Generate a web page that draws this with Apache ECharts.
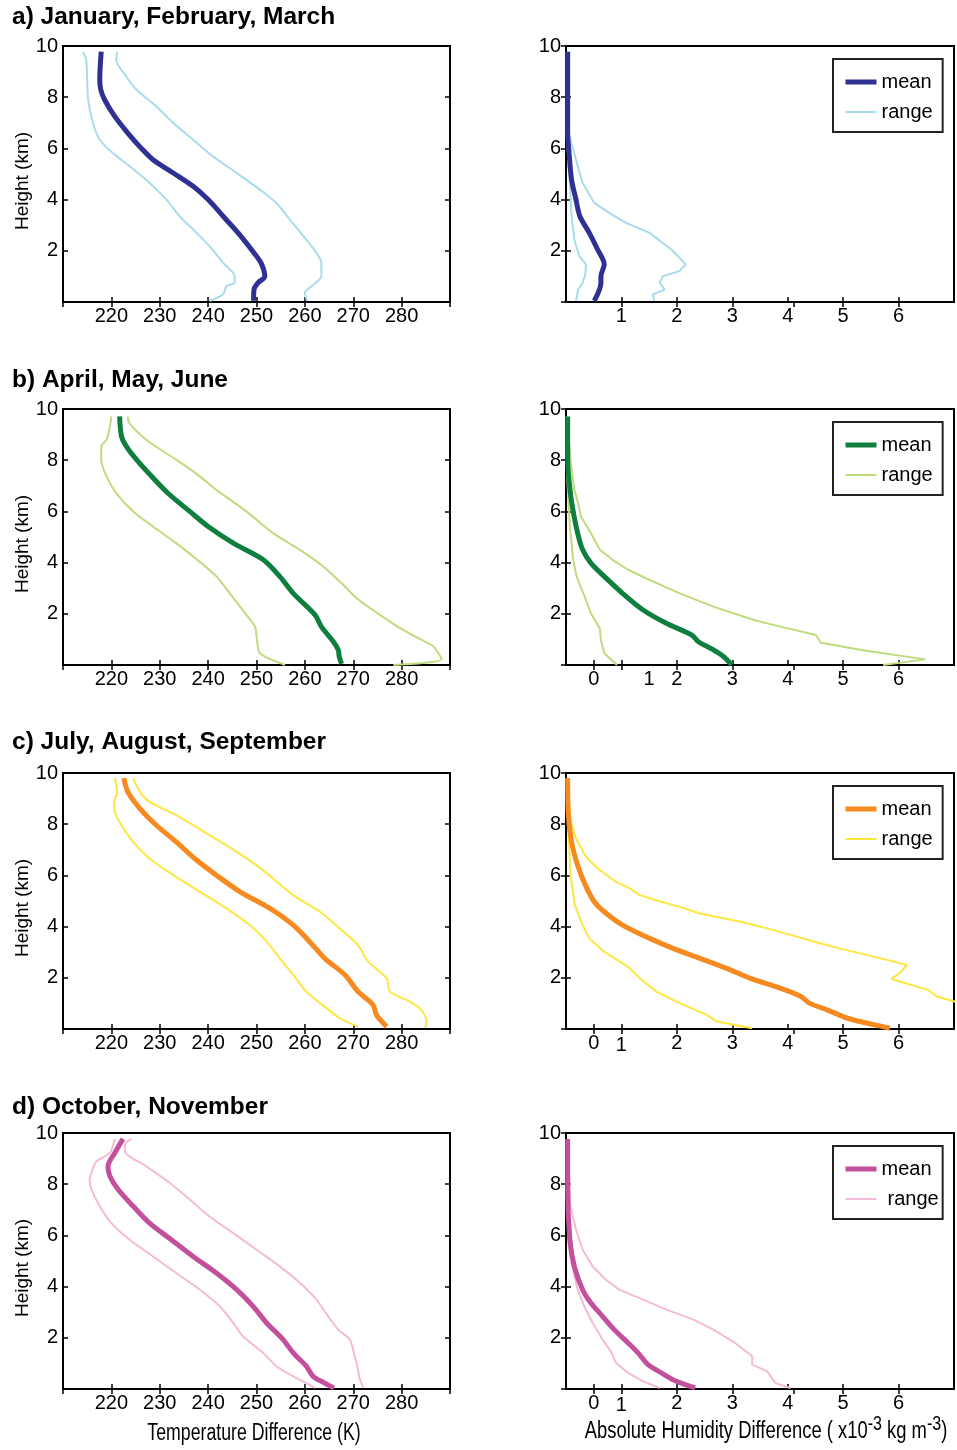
<!DOCTYPE html>
<html><head><meta charset="utf-8">
<script src="https://cdn.jsdelivr.net/npm/echarts@6/dist/echarts.min.js"></script>
<style>html,body{margin:0;padding:0;background:#fff}#c{width:957px;height:1450px}</style>
</head><body><div id="c"></div>
<script>
// ---------- data: [value, height km] ----------
const tempMeanA = [[217.9,9.78],[217.6,8.7],[217.8,8.3],[218.6,7.9],[220.7,7.25],[223.4,6.6],[226.2,6.0],[228.6,5.56],[232.8,5.04],[236.9,4.52],[240.0,4.0],[243.1,3.35],[246.2,2.7],[249.3,1.96],[251.0,1.5],[251.7,1.0],[250.3,0.75],[249.5,0.5],[249.4,0.05]];
const tempLowA = [[214.1,9.78],[214.8,9.45],[215.2,7.9],[216.2,6.99],[217.6,6.34],[220.3,5.82],[223.8,5.3],[227.9,4.65],[231.4,4.0],[234.1,3.35],[237.6,2.7],[240.3,2.18],[243.1,1.53],[245.5,1.01],[245.5,0.75],[243.8,0.62],[243.1,0.3],[240.3,0.04]];
const tempHighA = [[221.2,9.78],[221.0,9.45],[223.1,8.8],[225.2,8.29],[229.3,7.64],[232.8,6.99],[236.9,6.34],[241.0,5.69],[245.9,5.04],[250.7,4.39],[254.1,3.87],[256.9,3.22],[259.7,2.57],[262.4,1.92],[263.4,1.53],[263.4,1.01],[261.4,0.62],[260.0,0.36],[260.5,0.04]];
const humMeanA = [[0.03,9.78],[0.03,6.6],[0.05,5.95],[0.10,4.78],[0.18,4.0],[0.25,3.35],[0.42,2.7],[0.57,2.05],[0.69,1.47],[0.63,1.01],[0.63,0.75],[0.51,0.04]];
const humLowA = [[0.02,9.78],[0.03,5.95],[0.07,4.65],[0.10,3.35],[0.15,2.44],[0.24,1.79],[0.36,1.47],[0.35,1.08],[0.30,0.75],[0.22,0.49],[0.18,0.04]];
const humHighA = [[0.03,9.78],[0.05,6.6],[0.18,5.56],[0.30,4.65],[0.51,3.87],[0.78,3.48],[1.08,3.09],[1.51,2.7],[1.90,2.05],[2.02,1.79],[2.16,1.47],[2.05,1.21],[1.75,1.01],[1.69,0.75],[1.78,0.49],[1.57,0.3],[1.59,0.04]];

const tempMeanB = [[221.7,9.71],[222.1,8.93],[223.1,8.54],[225.2,8.02],[228.3,7.37],[231.7,6.71],[236.2,6.0],[240.0,5.41],[245.2,4.76],[251.4,4.11],[254.8,3.46],[257.6,2.8],[262.1,1.96],[263.4,1.5],[265.9,0.91],[266.9,0.59],[267.1,0.33],[267.6,0.04]];
const tempLowB = [[220.0,9.71],[219.7,9.32],[219.0,8.8],[217.9,8.54],[217.9,8.02],[219.0,7.37],[221.0,6.71],[224.5,6.0],[228.6,5.41],[233.4,4.76],[238.6,3.98],[241.7,3.46],[244.5,2.8],[247.9,1.96],[249.7,1.5],[250.1,0.98],[250.7,0.46],[255.9,0.0]];
const tempHighB = [[223.4,9.71],[223.7,9.45],[227.2,8.8],[233.4,8.02],[238.3,7.37],[241.7,6.84],[247.9,6.0],[253.4,5.15],[259.0,4.5],[263.8,3.85],[267.6,3.19],[270.7,2.61],[275.5,1.96],[280.3,1.37],[284.8,0.91],[286.6,0.72],[288.3,0.22],[278.3,0.0]];
const humMeanB = [[0.03,9.71],[0.03,8.02],[0.08,6.71],[0.13,6.0],[0.21,5.15],[0.30,4.5],[0.45,3.98],[0.69,3.46],[1.02,2.8],[1.39,2.15],[1.81,1.63],[2.27,1.17],[2.39,0.91],[2.66,0.59],[2.84,0.33],[2.99,0.0]];
const humLowB = [[0.02,9.71],[0.02,7.37],[0.07,5.41],[0.13,4.11],[0.19,3.46],[0.36,2.54],[0.45,2.02],[0.61,1.43],[0.63,0.98],[0.69,0.46],[0.92,0.0]];
const humHighB = [[0.02,9.71],[0.08,8.02],[0.15,6.84],[0.22,6.32],[0.27,5.8],[0.45,5.15],[0.61,4.5],[0.84,4.11],[1.12,3.72],[1.51,3.32],[2.05,2.8],[2.66,2.28],[3.39,1.76],[3.87,1.5],[4.51,1.17],[4.60,0.87],[5.33,0.59],[6.48,0.22],[5.72,0.0]];

const tempMeanC = [[222.6,9.8],[223.4,9.26],[225.9,8.61],[229.3,7.96],[233.4,7.31],[237.2,6.66],[241.7,6.01],[246.6,5.36],[252.8,4.71],[257.6,4.06],[261.0,3.41],[264.1,2.76],[268.3,2.11],[271.0,1.46],[274.1,0.94],[274.8,0.55],[276.9,0.09]];
const tempLowC = [[220.7,9.8],[221.2,9.26],[220.6,8.87],[220.7,8.48],[222.1,7.96],[224.5,7.31],[227.9,6.66],[232.8,6.01],[238.3,5.36],[243.8,4.71],[248.6,4.06],[252.1,3.41],[254.8,2.76],[257.6,2.11],[260.3,1.46],[264.5,0.81],[267.2,0.42],[271.0,0.09]];
const tempHighC = [[224.5,9.8],[225.9,9.26],[227.9,8.87],[233.4,8.35],[240.3,7.57],[245.9,6.92],[250.0,6.4],[253.4,5.88],[257.6,5.23],[263.1,4.58],[267.2,3.93],[271.0,3.28],[273.1,2.63],[276.9,1.98],[277.6,1.46],[281.7,1.07],[284.1,0.74],[285.2,0.29],[284.8,0.05]];
const humMeanC = [[0.03,9.8],[0.04,8.43],[0.10,7.31],[0.21,6.4],[0.35,5.62],[0.51,4.97],[0.69,4.58],[1.02,4.06],[1.51,3.54],[1.93,3.15],[2.42,2.76],[2.90,2.37],[3.33,1.98],[3.87,1.59],[4.24,1.27],[4.39,1.01],[4.72,0.74],[5.08,0.42],[5.57,0.16],[5.84,0.03]];
const humLowC = [[0.02,9.8],[0.04,7.96],[0.08,6.01],[0.16,4.84],[0.30,4.06],[0.42,3.54],[0.69,3.02],[1.12,2.43],[1.33,1.98],[1.63,1.46],[2.05,1.01],[2.54,0.55],[2.72,0.29],[3.36,0.03]];
const humHighC = [[0.02,9.8],[0.08,8.17],[0.18,7.44],[0.36,6.73],[0.57,6.27],[0.90,5.75],[1.15,5.49],[1.33,5.23],[1.63,5.03],[2.05,4.77],[2.42,4.51],[3.15,4.19],[3.63,3.93],[4.18,3.6],[4.60,3.34],[4.93,3.15],[5.81,2.69],[6.15,2.5],[6.05,2.24],[5.87,1.95],[6.54,1.52],[6.69,1.27],[7.05,1.05]];

const tempMeanD = [[222.4,9.77],[220.7,9.22],[219.3,8.7],[219.7,8.31],[221.4,7.79],[224.5,7.14],[227.9,6.48],[232.4,5.83],[236.9,5.18],[241.7,4.53],[245.9,3.88],[249.3,3.23],[252.1,2.58],[255.5,1.93],[257.6,1.41],[260.3,0.89],[261.7,0.49],[264.1,0.23],[266.0,0.04]];
const tempLowD = [[220.7,9.77],[219.7,9.22],[216.9,8.89],[216.1,8.57],[215.5,8.18],[215.9,7.79],[217.6,7.14],[220.0,6.48],[223.8,5.83],[228.6,5.18],[233.4,4.53],[238.3,3.88],[242.4,3.23],[245.2,2.58],[247.2,2.06],[251.4,1.41],[254.1,0.89],[257.6,0.49],[260.3,0.23],[262.1,0.04]];
const tempHighD = [[224.1,9.77],[222.8,9.54],[222.8,9.28],[227.2,8.7],[232.1,8.05],[236.2,7.4],[240.3,6.74],[245.2,6.09],[250.0,5.44],[254.8,4.79],[259.0,4.14],[262.4,3.49],[264.8,2.84],[266.9,2.32],[269.3,1.93],[270.3,1.28],[271.0,0.76],[271.2,0.49],[272.1,0.04]];
const humMeanD = [[0.03,9.77],[0.03,7.79],[0.07,5.83],[0.15,4.79],[0.30,3.88],[0.45,3.36],[0.66,2.84],[0.87,2.32],[1.12,1.8],[1.30,1.41],[1.48,0.95],[1.72,0.63],[1.99,0.3],[2.33,0.04]];
const humLowD = [[0.02,9.77],[0.04,5.83],[0.10,4.92],[0.21,3.88],[0.33,3.23],[0.48,2.58],[0.66,1.93],[0.81,1.47],[0.90,1.02],[1.12,0.63],[1.39,0.3],[1.69,0.04]];
const humHighD = [[0.03,9.77],[0.08,7.14],[0.18,6.22],[0.30,5.44],[0.48,4.79],[0.72,4.27],[0.96,3.88],[1.39,3.49],[1.81,3.1],[2.30,2.71],[2.66,2.32],[3.05,1.8],[3.36,1.28],[3.36,0.95],[3.63,0.69],[3.78,0.23],[4.05,0.04]];

// ---------- tick labels ----------
const tempTickLabels = [220,230,240,250,260,270,280];
const heightTickLabels = [2,4,6,8,10];
const humTicksA = [1,2,3,4,5,6];
const humTopTicksA = [1,2,3,4.1,5,6];
const humLabelPosA = [1,2,3,4,5,6];
const humLabelTextA = ['1','2','3','4','5','6'];
const humTicksB = [0.5,1,2,3,4,5,6];
const humTopTicksB = [0.5,1,2,3,4.1,5,6];
const humLabelPosB = [0.5,1.5,2,3,4,5,6];
const humLabelTextB = ['0','1','2','3','4','5','6'];
const humTicksCD = [0.5,1,2,3,4,5,6];
const humTopTicksCD = [0.5,1,2,3,4.1,5,6];
const humLabelPosCD = [0.5,1,2,3,4,5,6];
const humLabelTextCD = ['0','1','2','3','4','5','6'];

const panelTitles = ['a) January, February, March','b) April, May, June','c) July, August, September','d) October, November'];
const legendNames = ['mean','range'];
const tempAxisTitle = 'Temperature Difference (K)';
const humAxisTitle = '{n|Absolute Humidity Difference ( x10}{s|-3}{n| kg m}{s|-3}{n|)}';

// ---------- styling / layout ----------
const NUM = '"Liberation Sans", Arial, Helvetica, sans-serif';
const LEFT_X = 63, LEFT_W = 387, RIGHT_X = 566, RIGHT_W = 388;
const ROW_TOP = [46, 409, 773, 1133], ROW_H = 256;
const TITLE_BASE = [25, 388, 750, 1115];

const rows = [
  {id:'a', cMean:'#2e3192', cRange:'#a9dcea', t:[tempMeanA,tempLowA,tempHighA], h:[humMeanA,humLowA,humHighA], ticks:humTicksA, top:humTopTicksA, lpos:humLabelPosA, ltxt:humLabelTextA, dropOne:false, shiftRange:false},
  {id:'b', cMean:'#0f7f3f', cRange:'#bedc7e', t:[tempMeanB,tempLowB,tempHighB], h:[humMeanB,humLowB,humHighB], ticks:humTicksB, top:humTopTicksB, lpos:humLabelPosB, ltxt:humLabelTextB, dropOne:false, shiftRange:false},
  {id:'c', cMean:'#f6891f', cRange:'#fde73f', t:[tempMeanC,tempLowC,tempHighC], h:[humMeanC,humLowC,humHighC], ticks:humTicksCD, top:humTopTicksCD, lpos:humLabelPosCD, ltxt:humLabelTextCD, dropOne:true, shiftRange:false},
  {id:'d', cMean:'#c2509d', cRange:'#f5bad7', t:[tempMeanD,tempLowD,tempHighD], h:[humMeanD,humLowD,humHighD], ticks:humTicksCD, top:humTopTicksCD, lpos:humLabelPosCD, ltxt:humLabelTextCD, dropOne:true, shiftRange:true}
];

const tickStyle = {inside:true, length:5, lineStyle:{color:'#000', width:1.5}};
const labelFont = {fontFamily:NUM, fontSize:20, color:'#000'};

const grid=[], xAxis=[], yAxis=[], series=[], legend=[], title=[];

rows.forEach((r,i)=>{
  const top = ROW_TOP[i];
  title.push({text: panelTitles[i], left: 12, top: TITLE_BASE[i]-20, padding: 0,
    textStyle:{fontFamily:NUM, fontWeight:'bold', fontSize:24.5, color:'#000'}});
  [0,1].forEach(side=>{
    const gi = grid.length;
    grid.push({left: side?RIGHT_X:LEFT_X, top: top, width: side?RIGHT_W:LEFT_W, height: ROW_H,
      show:true, borderColor:'#000', borderWidth:2, backgroundColor:'transparent',
      containLabel:false, outerBoundsMode:'none'});
    const xi = xAxis.length;
    if (side === 0) {
      xAxis.push({type:'value', gridIndex:gi, position:'bottom', min:210, max:290, interval:10,
        axisLine:{show:false}, splitLine:{show:false}, axisTick:tickStyle,
        axisLabel:Object.assign({margin:4, formatter:v=> tempTickLabels.indexOf(v)>=0 ? String(v) : ''}, labelFont)});
      xAxis.push({type:'value', gridIndex:gi, position:'top', min:210, max:290, interval:10,
        axisLine:{show:false}, splitLine:{show:false}, axisTick:tickStyle, axisLabel:{show:false}});
    } else {
      xAxis.push({type:'value', gridIndex:gi, position:'bottom', min:0, max:7,
        axisLine:{show:false}, splitLine:{show:false},
        axisTick:Object.assign({customValues:r.ticks}, tickStyle),
        axisLabel:Object.assign({margin:4, customValues:r.lpos,
          rich:{lo:{fontFamily:NUM, fontSize:20, color:'#000', padding:[2,0,0,0]}},
          formatter:v=>{const k=r.lpos.indexOf(v); if(k<0) return ''; const t=r.ltxt[k]; return (r.dropOne && t==='1') ? '{lo|'+t+'}' : t;}}, labelFont)});
      xAxis.push({type:'value', gridIndex:gi, position:'top', min:0, max:7,
        axisLine:{show:false}, splitLine:{show:false},
        axisTick:Object.assign({customValues:r.top}, tickStyle), axisLabel:{show:false}});
    }
    const yi = yAxis.length;
    yAxis.push({type:'value', gridIndex:gi, position:'left', min:0, max:10, interval:2,
      axisLine:{show:false}, splitLine:{show:false}, axisTick:tickStyle,
      axisLabel:Object.assign({margin:5, formatter:v=> heightTickLabels.indexOf(v)>=0 ? String(v) : ''}, labelFont),
      name: side===0 ? 'Height (km)' : '', nameLocation:'middle', nameGap:28,
      nameTextStyle:{fontFamily:NUM, fontSize:19, color:'#000', padding:[0,14,0,0]}});
    yAxis.push({type:'value', gridIndex:gi, position:'right', min:0, max:10, interval:2,
      axisLine:{show:false}, splitLine:{show:false}, axisTick:tickStyle, axisLabel:{show:false}});
    const d = side===0 ? r.t : r.h;
    const rangeSmooth = side===0 ? 0.25 : 0;
    series.push({type:'line', name:'range_'+r.id, xAxisIndex:xi, yAxisIndex:yi, data:d[1], symbol:'none', smooth:rangeSmooth,
      lineStyle:{color:r.cRange, width:2}, itemStyle:{color:r.cRange}, z:2, silent:true});
    series.push({type:'line', name:'range_'+r.id, xAxisIndex:xi, yAxisIndex:yi, data:d[2], symbol:'none', smooth:rangeSmooth,
      lineStyle:{color:r.cRange, width:2}, itemStyle:{color:r.cRange}, z:2, silent:true});
    series.push({type:'line', name:'mean_'+r.id, xAxisIndex:xi, yAxisIndex:yi, data:d[0], symbol:'none', smooth:0.3,
      lineStyle:{color:r.cMean, width:5}, itemStyle:{color:r.cMean}, z:3, silent:true});
  });
  legend.push({data:[{name:'mean_'+r.id, lineStyle:{width:5, color:r.cMean}},
                     {name:'range_'+r.id, lineStyle:{width:2, color:r.cRange}, textStyle: r.shiftRange ? {padding:[0,0,0,6]} : {}}],
    left:833, top:top+13, orient:'vertical', padding: r.shiftRange ? [13,4,10,10] : [13,10,10,10],
    itemGap:10, itemWidth:31, itemHeight:14,
    itemStyle:{opacity:0}, borderColor:'#222', borderWidth:2, backgroundColor:'#fff', selectedMode:false,
    formatter:n=>legendNames[n.startsWith('mean') ? 0 : 1],
    textStyle:{fontFamily:NUM, fontSize:20, color:'#000'}});
});

// axis titles of the bottom row (condensed look via horizontal scale)
const graphic = [
  {type:'text', x:254, y:1434, scaleX:0.77, silent:true,
   style:{text:tempAxisTitle, fontFamily:NUM, fontSize:23, fill:'#000',
          align:'center', verticalAlign:'middle', textAlign:'center', textVerticalAlign:'middle'}},
  {type:'text', x:766, y:1429, scaleX:0.80, silent:true,
   style:{text:humAxisTitle, fontFamily:NUM, fontSize:23, fill:'#000',
          align:'center', verticalAlign:'middle', textAlign:'center', textVerticalAlign:'middle',
          rich:{n:{fontFamily:NUM, fontSize:23, verticalAlign:'bottom', fill:'#000', color:'#000'},
                s:{fontFamily:NUM, fontSize:20, verticalAlign:'top', padding:[0,0,9,0], fill:'#000', color:'#000'}}}}
];

const chart = echarts.init(document.getElementById('c'), null, {renderer:'canvas'});
chart.setOption({animation:false, backgroundColor:'#fff', title, grid, xAxis, yAxis, series, legend, graphic});
</script></body></html>
